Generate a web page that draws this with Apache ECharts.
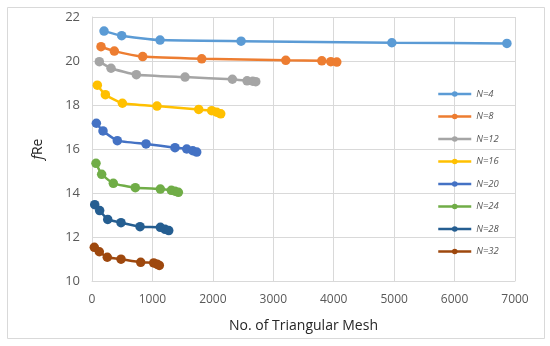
<!DOCTYPE html>
<html><head><meta charset="utf-8">
<script src="https://cdn.jsdelivr.net/npm/echarts@6/dist/echarts.min.js"></script>
<style>html,body{margin:0;padding:0;background:#fff}#c{width:550px;height:346px}</style>
</head><body><div id="c"></div>
<script>
const seriesNames = ['N=4','N=8','N=12','N=16','N=20','N=24','N=28','N=32'];
const colors = ['#5B9BD5','#ED7D31','#A5A5A5','#FFC000','#4472C4','#70AD47','#255E91','#9E480E'];
const meshN4  = [199, 491, 1126, 2467, 4962, 6866];
const fReN4   = [21.36, 21.15, 20.95, 20.90, 20.83, 20.80];
const meshN8  = [149, 369, 839, 1816, 3207, 3803, 3952, 4051];
const fReN8   = [20.65, 20.45, 20.20, 20.10, 20.03, 20.01, 19.97, 19.95];
const meshN12 = [121, 315, 734, 1540, 2323, 2566, 2660, 2710];
const fReN12  = [19.97, 19.67, 19.38, 19.27, 19.17, 19.10, 19.08, 19.06];
const meshN16 = [88, 221, 503, 1076, 1766, 1981, 2064, 2130];
const fReN16  = [18.90, 18.47, 18.08, 17.95, 17.80, 17.74, 17.67, 17.60];
const meshN20 = [72, 182, 419, 894, 1374, 1568, 1667, 1733];
const fReN20  = [17.17, 16.82, 16.38, 16.23, 16.06, 16.00, 15.92, 15.86];
const meshN24 = [66, 160, 353, 717, 1131, 1313, 1374, 1429];
const fReN24  = [15.35, 14.85, 14.44, 14.24, 14.18, 14.12, 14.08, 14.03];
const meshN28 = [45, 127, 260, 480, 795, 1131, 1209, 1270];
const fReN28  = [13.47, 13.20, 12.80, 12.65, 12.47, 12.44, 12.35, 12.29];
const meshN32 = [38, 121, 253, 480, 806, 1021, 1081, 1114];
const fReN32  = [11.53, 11.33, 11.08, 10.99, 10.85, 10.82, 10.76, 10.71];
const xTicks = [0,1000,2000,3000,4000,5000,6000,7000];
const yTicks = [10,12,14,16,18,20,22];

const meshes = [meshN4,meshN8,meshN12,meshN16,meshN20,meshN24,meshN28,meshN32];
const vals = [fReN4,fReN8,fReN12,fReN16,fReN20,fReN24,fReN28,fReN32];

const chart = echarts.init(document.getElementById('c'), null, {renderer:'canvas'});
const font = "'Open Sans', 'Liberation Sans', sans-serif";
chart.setOption({
  animation:false,
  backgroundColor:'#fff',
  graphic:[{type:'rect', shape:{x:7.5,y:7.5,width:537,height:331}, style:{fill:null, stroke:'#D9D9D9', lineWidth:1}, z:-1}],
  grid:{left:92, right:35, top:17, bottom:65},
  xAxis:{type:'value', min:xTicks[0], max:xTicks[xTicks.length-1], interval:1000,
    name:'No. of Triangular Mesh', nameLocation:'middle', nameGap:38,
    nameTextStyle:{fontFamily:font, fontSize:14, color:'#262626'},
    axisLine:{show:true, lineStyle:{color:'#D9D9D9'}}, axisTick:{show:false},
    axisLabel:{fontFamily:font, fontSize:12, color:'#595959', margin:13, formatter:v=>String(v)},
    splitLine:{show:true, lineStyle:{color:'#D9D9D9'}}},
  yAxis:{type:'value', min:yTicks[0], max:yTicks[yTicks.length-1], interval:2,
    name:'{i|f}Re', nameLocation:'middle', nameGap:47, nameRotate:90,
    nameTextStyle:{fontFamily:font, fontSize:14, color:'#262626', rich:{i:{fontStyle:'italic', fontFamily:font, fontSize:14, color:'#262626'}}},
    axisLine:{show:true, lineStyle:{color:'#D9D9D9'}}, axisTick:{show:false},
    axisLabel:{fontFamily:font, fontSize:13, color:'#595959', margin:12},
    splitLine:{show:true, lineStyle:{color:'#D9D9D9'}}},
  legend:{orient:'vertical', left:432, top:84, itemWidth:33, itemHeight:7, itemGap:12.5,
    lineStyle:{width:2.5},
    textStyle:{fontFamily:font, fontSize:9.5, fontStyle:'italic', color:'#595959'},
    data:seriesNames},
  color:colors,
  series:seriesNames.map((n,i)=>({
    name:n, type:'line', smooth:0.15,
    data:meshes[i].map((x,j)=>[x, vals[i][j]]),
    symbol:'circle', symbolSize:9.5,
    lineStyle:{width:2.5, color:colors[i]},
    itemStyle:{color:colors[i]}
  }))
});
</script></body></html>
